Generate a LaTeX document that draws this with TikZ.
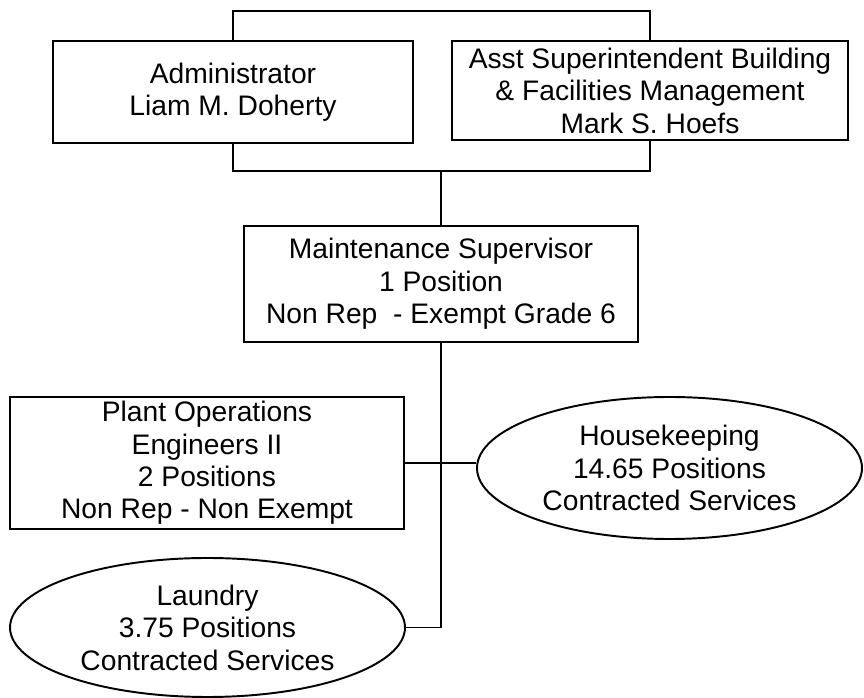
\documentclass[tikz,border=0pt]{standalone}
\usepackage{fontspec}
\setmainfont{Liberation Sans}
\usetikzlibrary{shapes.geometric}
\begin{document}
\begin{tikzpicture}[x=0.5669pt,y=-0.5669pt,
  every node/.style={font=\fontsize{16}{18.4}\selectfont, align=center, inner sep=0pt},
  box/.style={draw, rectangle, line width=1.1pt},
  oval/.style={draw, ellipse, line width=1.1pt},
  link/.style={line width=1.1pt}]
\useasboundingbox (0,0) rectangle (864,698);

% boxes
\node[box, minimum width=360*0.5669pt, minimum height=102*0.5669pt] (admin) at (233,92)
  {Administrator\\Liam M. Doherty};
\node[box, minimum width=396*0.5669pt, minimum height=99*0.5669pt] (asst) at (650,90.5)
  {Asst Superintendent Building\\\& Facilities Management\\Mark S. Hoefs};
\node[box, minimum width=394*0.5669pt, minimum height=116*0.5669pt] (maint) at (441,284)
  {Maintenance Supervisor\\1 Position\\Non Rep\ \ - Exempt Grade 6};
\node[box, minimum width=394*0.5669pt, minimum height=132*0.5669pt] (plant) at (207,463)
  {Plant Operations\\Engineers II\\2 Positions\\Non Rep - Non Exempt};

% contracted services
\node[oval, minimum width=385*0.5669pt, minimum height=142*0.5669pt] (house) at (669.5,468)
  {Housekeeping\\14.65 Positions\\Contracted Services};
\node[oval, minimum width=395*0.5669pt, minimum height=139*0.5669pt] (laundry) at (207.5,627.5)
  {Laundry\\3.75 Positions\\Contracted Services};

% connectors
\coordinate (topbar) at (441,11);
\coordinate (midbar) at (441,171);
\draw[link] (admin.north) |- (topbar) -| (asst.north);
\draw[link] (admin.south) |- (midbar) -| (asst.south);
\draw[link] (midbar) -- (maint.north);
\draw[link] (maint.south) |- (laundry.east);
\draw[link] (plant.east) -- (plant.east -| house.west);
\end{tikzpicture}
\end{document}
